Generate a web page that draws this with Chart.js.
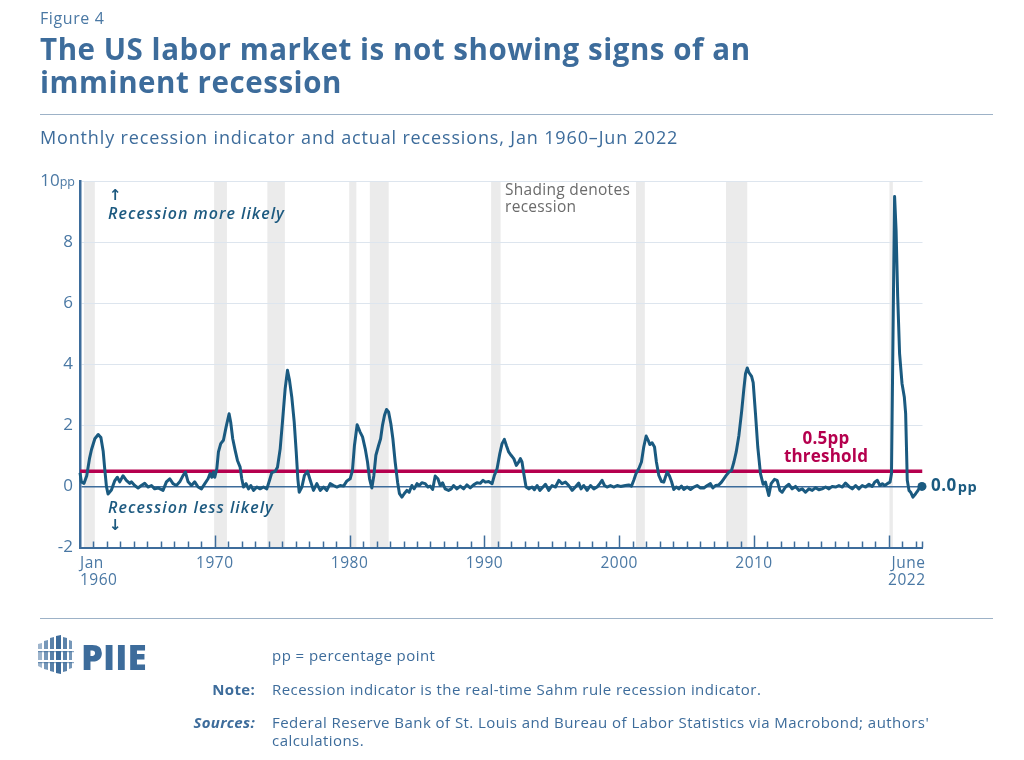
<!DOCTYPE html>
<html><head><meta charset="utf-8">
<script src="https://cdn.jsdelivr.net/npm/chart.js@4.4.1/dist/chart.umd.min.js"></script>
<style>
html,body{margin:0;padding:0;background:#fff;}
body{width:1024px;height:760px;position:relative;overflow:hidden;font-family:"Open Sans","DejaVu Sans",sans-serif;}
.abs{position:absolute;white-space:nowrap;}
#fig{left:40px;top:7px;font-size:16px;color:#4a78a4;letter-spacing:0.6px;}
#title{left:40px;top:32px;font-size:29.5px;font-weight:700;color:#3d6c9b;line-height:33px;letter-spacing:0.55px;}
#sub{left:40px;top:125px;font-size:18px;font-weight:500;color:#3d6c9b;letter-spacing:0.85px;}
.rule{position:absolute;left:40px;width:953px;height:1px;background:#9db2c7;}
#logo{left:38px;top:635px;}
#piie{left:81px;top:637px;font-size:35px;font-weight:800;color:#3d6c9b;line-height:40px;}
.note{font-size:15px;color:#3d6c9b;line-height:18px;letter-spacing:0.45px;}
.lab{font-weight:700;text-align:right;width:120px;letter-spacing:0.3px;}
canvas{position:absolute;left:0;top:0;}
</style></head>
<body>
<canvas id="c" width="1024" height="760"></canvas>
<div class="abs" id="fig">Figure 4</div>
<div class="abs" id="title">The US labor market is not showing signs of an<br>imminent recession</div>
<div class="rule" style="top:114px"></div>
<div class="abs" id="sub">Monthly recession indicator and actual recessions, Jan 1960–Jun 2022</div>
<div class="rule" style="top:618px"></div>
<svg class="abs" id="logo" width="36" height="40" viewBox="0 0 36 40">
  <polygon points="0,9 4,8 4,33 0,31" fill="#3d6c9b" opacity="0.5"/>
  <polygon points="6,6 10,5 10,35 6,34" fill="#3d6c9b" opacity="0.7"/>
  <polygon points="12,3 16,2 16,37 12,36" fill="#3d6c9b" opacity="0.85"/>
  <polygon points="18,1 23,0 23,39 18,38" fill="#3d6c9b"/>
  <polygon points="25,2 29,3 29,36 25,37" fill="#3d6c9b" opacity="0.85"/>
  <polygon points="31,5 34,6 34,33 31,34" fill="#3d6c9b" opacity="0.7"/>
  <rect x="0" y="14" width="36" height="2" fill="#ffffff"/>
  <rect x="0" y="25" width="36" height="2" fill="#ffffff"/>
  <rect x="0" y="16" width="36" height="1.2" fill="#3d6c9b" opacity="0.6"/>
  <rect x="0" y="27" width="36" height="1.2" fill="#3d6c9b" opacity="0.6"/>
</svg>
<div class="abs" id="piie">PIIE</div>
<div class="abs note" style="left:272px;top:646px;">pp = percentage point</div>
<div class="abs note lab" style="left:135px;top:680px;">Note:</div>
<div class="abs note" style="left:272px;top:680px;">Recession indicator is the real-time Sahm rule recession indicator.</div>
<div class="abs note lab" style="left:135px;top:713px;font-style:italic;">Sources:</div>
<div class="abs note" style="left:272px;top:713px;">Federal Reserve Bank of St. Louis and Bureau of Labor Statistics via Macrobond; authors'<br>calculations.</div>
<script>
// ---- data (decimal years and Sahm rule real-time indicator, pp) ----
const months = [
 1960.0,1960.1,1960.3,1960.5,1960.7,1960.85,1961.1,1961.35,1961.55,1961.72,1961.83,1961.96,1962.08,1962.33,1962.57,1962.77,1962.95,1963.19,1963.44,1963.69,1963.81,1964.06,1964.31,1964.55,1964.8,1965.05,1965.3,1965.54,1965.79,1966.16,1966.41,1966.66,1966.9,1967.15,1967.4,1967.65,1967.82,1968.02,1968.27,1968.51,1968.76,1969.01,1969.26,1969.5,1969.65,1969.78,1969.9,
 1970.0,1970.15,1970.27,1970.44,1970.64,1970.84,1971.06,1971.18,1971.33,1971.51,1971.68,1971.88,1972.0,1972.13,1972.32,1972.5,1972.67,1972.87,1973.12,1973.36,1973.61,1973.86,1974.06,1974.23,1974.48,1974.65,1974.85,1975.02,1975.22,1975.39,1975.54,1975.71,1975.89,1976.04,1976.16,1976.26,1976.46,1976.65,1976.88,1977.08,1977.32,1977.57,1977.82,1978.07,1978.31,1978.56,1978.81,1979.06,1979.3,1979.55,1979.8,
 1980.04,1980.21,1980.36,1980.56,1980.78,1980.96,1981.16,1981.33,1981.48,1981.65,1981.8,1981.95,1982.15,1982.3,1982.44,1982.59,1982.74,1982.89,1983.06,1983.21,1983.38,1983.56,1983.7,1983.88,1984.05,1984.25,1984.42,1984.62,1984.79,1985.0,1985.17,1985.36,1985.61,1985.81,1985.98,1986.16,1986.35,1986.55,1986.72,1986.9,1987.09,1987.34,1987.54,1987.71,1987.96,1988.21,1988.46,1988.7,1988.95,1989.2,1989.45,1989.7,1989.9,
 1990.07,1990.32,1990.57,1990.74,1990.94,1991.14,1991.31,1991.48,1991.63,1991.8,1991.98,1992.18,1992.37,1992.55,1992.67,1992.79,1992.92,1993.09,1993.29,1993.54,1993.71,1993.91,1994.11,1994.35,1994.53,1994.77,1995.02,1995.27,1995.52,1995.76,1996.01,1996.26,1996.51,1996.75,1997.0,1997.17,1997.37,1997.62,1997.87,1998.12,1998.36,1998.56,1998.73,1998.91,1999.1,1999.35,1999.6,1999.85,
 2000.1,2000.46,2000.71,2000.91,2001.08,2001.25,2001.45,2001.65,2001.82,2002.0,2002.15,2002.27,2002.44,2002.62,2002.76,2002.94,2003.14,2003.31,2003.43,2003.56,2003.73,2003.88,2004.05,2004.23,2004.42,2004.62,2004.79,2005.04,2005.29,2005.54,2005.78,2006.03,2006.28,2006.53,2006.77,2006.95,2007.15,2007.39,2007.59,2007.76,2007.94,2008.14,2008.33,2008.51,2008.68,2008.88,2009.08,2009.25,2009.37,2009.5,2009.62,2009.82,2009.94,
 2010.11,2010.28,2010.48,2010.68,2010.85,2011.1,2011.27,2011.52,2011.72,2011.92,2012.09,2012.34,2012.59,2012.83,2013.08,2013.33,2013.58,2013.82,2014.07,2014.32,2014.57,2014.81,2015.06,2015.31,2015.56,2015.8,2016.05,2016.3,2016.55,2016.79,2017.04,2017.29,2017.54,2017.78,2018.03,2018.28,2018.53,2018.77,2018.95,2019.15,2019.34,2019.52,2019.69,2019.89,
 2020.09,2020.2,2020.33,2020.43,2020.54,2020.66,2020.8,2020.98,2021.15,2021.25,2021.37,2021.5,2021.62,2021.79,2021.99,2022.17,2022.3,2022.46
];
const indicator = [
 0.45,0.15,0.1,0.35,0.9,1.2,1.56,1.7,1.6,1.15,0.6,0.0,-0.25,-0.12,0.18,0.3,0.15,0.35,0.2,0.1,0.15,0.03,-0.05,0.03,0.1,-0.02,0.03,-0.08,-0.05,-0.13,0.15,0.25,0.09,0.03,0.15,0.36,0.47,0.15,0.03,0.15,-0.02,-0.08,0.09,0.25,0.42,0.3,0.47,
 0.3,0.58,1.13,1.4,1.51,1.95,2.38,2.1,1.56,1.18,0.85,0.63,0.25,-0.02,0.09,-0.08,0.03,-0.13,-0.02,-0.08,-0.02,-0.08,0.2,0.45,0.49,0.63,1.23,2.11,3.2,3.8,3.48,2.93,2.11,1.13,0.25,-0.19,-0.02,0.36,0.49,0.2,-0.13,0.09,-0.13,-0.02,-0.13,0.09,0.03,-0.02,0.03,0.01,0.18,
 0.25,0.52,1.34,2.02,1.78,1.62,1.23,0.8,0.25,-0.05,0.36,1.02,1.34,1.56,2.0,2.33,2.52,2.44,2.05,1.56,0.8,0.14,-0.24,-0.35,-0.24,-0.13,-0.19,0.03,-0.08,0.09,0.03,0.12,0.09,-0.02,0.01,-0.1,0.34,0.25,0.03,0.12,-0.08,-0.13,-0.08,0.03,-0.08,0.01,-0.08,0.05,-0.05,0.05,0.12,0.1,0.2,
 0.14,0.16,0.09,0.36,0.58,1.07,1.4,1.54,1.34,1.13,1.02,0.91,0.69,0.8,0.91,0.8,0.42,-0.02,-0.08,-0.02,-0.11,0.03,-0.13,-0.02,0.07,-0.13,0.03,-0.02,0.2,0.09,0.14,0.03,-0.13,-0.02,0.11,-0.08,0.03,-0.13,0.03,-0.08,-0.02,0.09,0.2,0.03,-0.02,0.03,-0.02,0.03,
 0.0,0.03,0.05,0.01,0.2,0.42,0.58,0.8,1.29,1.65,1.51,1.37,1.43,1.29,0.8,0.36,0.16,0.14,0.31,0.47,0.34,0.16,-0.1,-0.02,-0.08,0.01,-0.1,-0.02,-0.1,-0.02,0.03,-0.05,-0.05,0.03,0.09,-0.05,0.03,0.05,0.14,0.25,0.36,0.47,0.52,0.8,1.13,1.67,2.44,3.2,3.69,3.88,3.73,3.6,3.4,
 2.38,1.29,0.42,0.07,0.14,-0.3,0.09,0.23,0.2,-0.13,-0.19,-0.02,0.07,-0.08,0.0,-0.13,-0.08,-0.19,-0.08,-0.13,-0.04,-0.11,-0.08,-0.02,-0.08,0.0,-0.02,0.03,-0.02,0.11,0.0,-0.08,0.03,-0.08,0.03,-0.02,0.07,0.0,0.14,0.2,0.03,0.09,0.03,0.09,
 0.14,0.42,5.66,9.49,8.39,6.21,4.35,3.37,2.93,2.38,0.2,-0.13,-0.19,-0.35,-0.24,-0.13,-0.02,0.0
];
const recessionStart = [1960.3, 1969.95, 1973.9, 1979.97, 1981.5, 1990.5, 2001.25, 2007.92, 2020.05];
const recessionEnd   = [1961.1, 1970.9, 1975.2, 1980.5, 1982.9, 1991.2, 2001.9, 2009.5, 2020.3];
const thresholdValue = 0.5;
const yTickValues = [-2, 0, 2, 4, 6, 8, 10];
const xLabelYears = [1970, 1980, 1990, 2000, 2010];
const xStart = 1960, xEnd = 2022.5;

const BLUE = '#3d6c9b', LINE = '#1a5a80', RED = '#b5004e', TICKC = '#4a78a4';

const overlay = {
  id: 'overlay',
  beforeDraw(chart) {
    const {ctx, chartArea: a, scales: {x}} = chart;
    ctx.save();
    ctx.fillStyle = '#ebebeb';
    recessionStart.forEach((s, i) => {
      const x0 = x.getPixelForValue(s), x1 = x.getPixelForValue(recessionEnd[i]);
      ctx.fillRect(x0, a.top, x1 - x0, a.bottom - a.top);
    });
    ctx.restore();
  },
  afterDraw(chart) {
    const {ctx, chartArea: a, scales: {x, y}} = chart;
    ctx.save();
    ctx.strokeStyle = BLUE; ctx.lineWidth = 1.5;
    for (let yr = 1961; yr <= 2022; yr++) {
      const px = Math.round(x.getPixelForValue(yr)) + 0.5;
      const len = yr % 10 === 0 ? 12 : 6;
      ctx.beginPath(); ctx.moveTo(px, a.bottom); ctx.lineTo(px, a.bottom - len); ctx.stroke();
    }
    { const px = Math.round(x.getPixelForValue(xEnd)) - 0.5;
      ctx.beginPath(); ctx.moveTo(px, a.bottom); ctx.lineTo(px, a.bottom - 6); ctx.stroke(); }
    ctx.fillStyle = TICKC; ctx.font = '15.5px "Open Sans"'; ctx.textBaseline = 'middle';
    ctx.letterSpacing = '0.5px';
    ctx.textAlign = 'center';
    xLabelYears.forEach(yr => ctx.fillText(String(yr), x.getPixelForValue(yr), a.bottom + 16));
    ctx.textAlign = 'left';
    ctx.fillText('Jan', x.getPixelForValue(xStart), a.bottom + 16);
    ctx.fillText('1960', x.getPixelForValue(xStart), a.bottom + 33);
    ctx.textAlign = 'right';
    ctx.fillText('June', x.getPixelForValue(xEnd) + 3, a.bottom + 16);
    ctx.fillText('2022', x.getPixelForValue(xEnd) + 3, a.bottom + 33);
    ctx.letterSpacing = '0px';
    ctx.font = '17px "Open Sans"';
    yTickValues.forEach(v => {
      const py = y.getPixelForValue(v);
      if (v === 10) {
        ctx.font = '12.5px "Open Sans"'; ctx.textAlign = 'right';
        ctx.fillText('pp', 75, py + 1);
        const w = ctx.measureText('pp').width;
        ctx.font = '17px "Open Sans"';
        ctx.fillText('10', 75 - w, py);
      } else {
        ctx.textAlign = 'right';
        ctx.fillText(String(v), 73, py);
      }
    });
    ctx.fillStyle = '#1d5a80'; ctx.textAlign = 'left';
    ctx.font = 'italic 600 16px "Open Sans"';
    ctx.letterSpacing = '1px';
    ctx.fillText('Recession more likely', 108, 214);
    ctx.fillText('Recession less likely', 108, 508);
    ctx.letterSpacing = '0px';
    ctx.font = 'bold 15px "DejaVu Sans"';
    ctx.fillText('↑', 109, 196);
    ctx.fillText('↓', 109, 526);
    ctx.fillStyle = '#6b6b6b'; ctx.font = '500 15.5px "Open Sans"';
    ctx.letterSpacing = '0.3px';
    ctx.fillText('Shading denotes', 505, 191);
    ctx.fillText('recession', 505, 208);
    ctx.fillStyle = RED; ctx.font = 'bold 17px "Open Sans"'; ctx.textAlign = 'center';
    ctx.letterSpacing = '0.2px';
    const ty = y.getPixelForValue(thresholdValue);
    ctx.fillText('0.5pp', 826, ty - 32);
    ctx.fillText('threshold', 826, ty - 14);
    const n = months.length - 1;
    const ex = x.getPixelForValue(months[n]) + 9, ey = y.getPixelForValue(indicator[n]);
    ctx.fillStyle = LINE; ctx.textAlign = 'left';
    ctx.font = 'bold 17px "Open Sans"';
    ctx.letterSpacing = '0.5px';
    const lbl = indicator[n].toFixed(1);
    ctx.fillText(lbl, ex, ey);
    const lw = ctx.measureText(lbl).width;
    ctx.font = 'bold 14.5px "Open Sans"';
    ctx.fillText('pp', ex + lw + 1, ey + 1.5);
    ctx.restore();
  }
};

new Chart(document.getElementById('c'), {
  type: 'line',
  data: {
    datasets: [
      {
        data: months.map((m, i) => ({x: m, y: indicator[i]})),
        borderColor: LINE, borderWidth: 3, tension: 0,
        pointRadius: c => c.dataIndex === months.length - 1 ? 4.5 : 0,
        pointBackgroundColor: LINE, pointBorderWidth: 0,
        borderJoinStyle: 'round', order: 1, clip: false
      },
      {
        data: [{x: xStart, y: thresholdValue}, {x: xEnd, y: thresholdValue}],
        borderColor: RED, borderWidth: 3.5, pointRadius: 0, order: 2
      }
    ]
  },
  options: {
    responsive: false, animation: false, devicePixelRatio: 1,
    layout: {padding: {left: 80, top: 181, right: 101.5, bottom: 212.5}},
    plugins: {legend: {display: false}, tooltip: {enabled: false}},
    scales: {
      x: {
        type: 'linear', min: xStart, max: xEnd,
        grid: {display: false, drawTicks: false},
        ticks: {display: false},
        border: {display: true, color: BLUE, width: 2},
        afterFit(s) { s.height = 0; }
      },
      y: {
        min: -2, max: 10,
        ticks: {display: false, stepSize: 2},
        grid: {
          drawTicks: false,
          color: c => c.tick.value === 0 ? BLUE : (c.tick.value > 0 ? '#dde5ee' : 'rgba(0,0,0,0)'),
          lineWidth: c => c.tick.value === 0 ? 1.5 : 1
        },
        border: {display: true, color: BLUE, width: 2.5},
        afterFit(s) { s.width = 0; }
      }
    }
  },
  plugins: [overlay]
});
</script>
</body></html>
